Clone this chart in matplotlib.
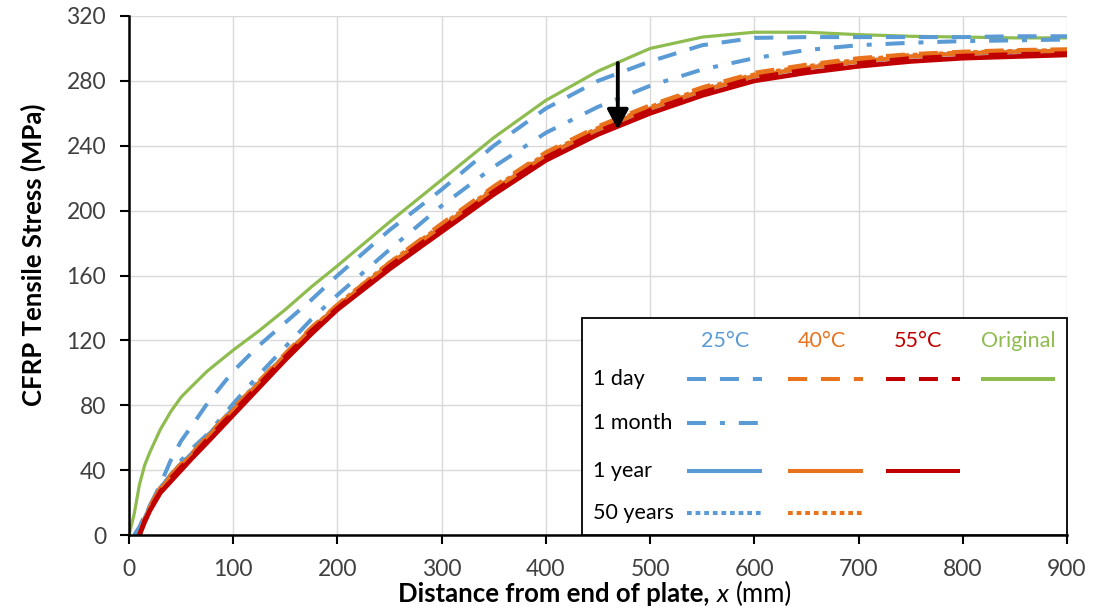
import numpy as np
import matplotlib
matplotlib.use("Agg")
import matplotlib.pyplot as plt
from matplotlib.lines import Line2D
from matplotlib.patches import Rectangle, FancyArrowPatch
from matplotlib.offsetbox import TextArea, HPacker, AnnotationBbox

# ---------------- data ----------------
nan = np.nan
distance_mm = [0, 5, 10, 15, 20, 30, 40, 50, 60, 75, 100, 125, 150, 175, 200,
               250, 300, 350, 400, 450, 500, 550, 600, 650, 700, 750, 800, 850, 900]

original = [0, 13, 31, 43, 51, 65, 76, 85, 91.5, 101, 114, 126, 139, 153, 166,
            193, 219, 245, 268, 286, 300, 307, 310, 310, 308.5, 307.5, 307, 306.5, 306.5]

t25_1day = [nan, 0, 5, 12, 18, 31, 46, 58, 67, 81, 101, 117, 131, 145, 160,
            188, 213, 240, 263, 280, 292, 302, 306.5, 307, 307, 307, 307, 307.5, 307.5]
t25_1month = [nan, nan, 0, 8, 15, 27, 37, 46, 53, 62, 81, 99, 116, 133, 148,
              176, 203, 227, 248, 264, 277, 287, 294, 299, 302, 303.5, 304.5, 305, 305.5]
t25_1year = [nan, nan, 0, 10, 18, 29, 37, 44, 50, 61, 78, 94, 111, 127, 141,
             167, 190, 213, 234, 250, 263, 274, 283, 288, 292, 295, 297, 298, 298.5]
t25_50years = [nan, nan, 0, 10, 18, 29, 37, 44, 50, 61, 78, 95, 111, 127, 141,
               167, 190, 213, 234, 250, 263, 274, 283, 288, 292, 295, 297, 297.5, 298]

t40_1day = [nan, nan, 0, 10, 18, 29, 37, 44, 50, 61, 78, 95, 112, 128, 142,
            168, 192, 215, 236, 252, 265, 276, 285, 290, 294, 296.5, 298, 299, 299.5]
t40_1year = [nan, nan, 0, 9, 17, 28, 36, 43, 49, 60, 77, 94, 111, 127, 141,
             167, 190, 213, 234, 250, 263, 274, 283, 288, 292, 295, 297, 298, 298.5]
t40_50years = [nan, nan, 0, 9, 17, 28, 36, 43, 49, 60, 77, 94, 111, 127, 142,
               168, 191, 214, 235, 251, 264, 275, 284, 289, 293, 296, 297.5, 298.5, 299]

t55_1day = [nan, nan, 0, 9, 16, 27, 35, 42, 48, 59, 76, 93, 110, 126, 140,
            166, 189, 212, 233, 249, 262, 273, 282, 287, 291, 294, 295.5, 296.5, 297]
t55_1year = [nan, nan, 0, 8, 15, 26, 33, 40, 47, 57, 74, 91, 108, 124, 139,
             164, 187, 210, 231, 247, 260, 271, 280, 285, 289, 292, 294, 295, 296]

arrow_x = 469
arrow_from, arrow_to = 291, 250

y_ticks = [0, 40, 80, 120, 160, 200, 240, 280, 320]
x_ticks = [0, 100, 200, 300, 400, 500, 600, 700, 800, 900]

temps = ["25°C", "40°C", "55°C", "Original"]
durations = ["1 day", "1 month", "1 year", "50 years"]

# ---------------- style ----------------
plt.rcParams['font.family'] = ['Lato', 'DejaVu Sans']
plt.rcParams['lines.scale_dashes'] = False

BLUE = '#5B9BD5'
ORANGE = '#E8731C'
RED = '#C00000'
GREEN = '#8FBC4F'

DAY = (0, (13.7, 10))
MONTH = (0, (13.7, 10, 3.6, 10))
YEAR = '-'
FIFTY = (0, (3.4, 2.8))

fig = plt.figure(figsize=(11.02, 6.13), dpi=100)
ax = fig.add_axes([129 / 1102, 1 - 535 / 613, 938 / 1102, 519 / 613])

series = [
    (original, GREEN, '-', 2.3),
    (t25_1day, BLUE, DAY, 2.9),
    (t25_1month, BLUE, MONTH, 2.9),
    (t25_1year, BLUE, YEAR, 2.9),
    (t25_50years, BLUE, FIFTY, 2.9),
    (t40_1day, ORANGE, DAY, 2.9),
    (t40_1year, ORANGE, YEAR, 2.9),
    (t40_50years, ORANGE, FIFTY, 2.9),
    (t55_1day, RED, DAY, 2.9),
    (t55_1year, RED, YEAR, 3.4),
]
for ys, c, ls, lw in series:
    ax.plot(distance_mm, ys, color=c, linestyle=ls, lw=lw,
            dash_capstyle='butt', solid_capstyle='butt', zorder=3)

arr = FancyArrowPatch((arrow_x, arrow_from), (arrow_x, arrow_to),
                      arrowstyle='-|>,head_length=0.6,head_width=0.32',
                      mutation_scale=20, lw=2.8, color='black',
                      shrinkA=0, shrinkB=0, zorder=6)
ax.add_patch(arr)

ax.set_xlim(0, 900)
ax.set_ylim(0, 320)
ax.set_xticks(x_ticks)
ax.set_yticks(y_ticks)
ax.grid(True, color='#D9D9D9', lw=1.0, zorder=0)
ax.set_axisbelow(True)
for s in ['top', 'right']:
    ax.spines[s].set_visible(False)
for s in ['left', 'bottom']:
    ax.spines[s].set_linewidth(1.8)
    ax.spines[s].set_color('black')
    ax.spines[s].set_zorder(5)
ax.tick_params(axis='both', direction='out', length=6.5, width=1.5,
               color='black', labelsize=16.5, labelcolor='#404040')
ax.tick_params(axis='y', pad=10)
ax.tick_params(axis='x', pad=11)

ax.set_ylabel('CFRP Tensile Stress (MPa)', fontsize=18.5, fontweight='bold')
ax.yaxis.set_label_coords(-0.0885, 0.54)

# x label with mixed styles
parts = [
    TextArea("Distance from end of plate,",
             textprops=dict(fontsize=18.5, fontweight='bold', color='black')),
    TextArea("x", textprops=dict(fontsize=18.5, fontstyle='italic', color='black')),
    TextArea("(mm)", textprops=dict(fontsize=18.5, color='black')),
]
pack = HPacker(children=parts, align='baseline', pad=0, sep=5)
ab = AnnotationBbox(pack, (0.4968, -0.090), xycoords='axes fraction',
                    box_alignment=(0.5, 1.0), frameon=False, pad=0,
                    annotation_clip=False)
ax.add_artist(ab)

# ---------------- custom legend table ----------------
T = ax.transAxes
box = Rectangle((0.483, 0.0), 0.517, 0.418, transform=T, facecolor='white',
                edgecolor='black', lw=1.3, zorder=7, clip_on=False)
ax.add_patch(box)

head_x = [0.635, 0.739, 0.841, 0.948]
head_c = [BLUE, ORANGE, RED, GREEN]
for t, hx, hc in zip(temps, head_x, head_c):
    ax.text(hx, 0.374, t, transform=T, color=hc, fontsize=15.5,
            ha='center', va='center', zorder=8)

row_y = [0.3012, 0.2158, 0.1239, 0.0424]
for d, ry in zip(durations, row_y):
    ax.text(0.4947, ry, d, transform=T, color='black', fontsize=15.5,
            ha='left', va='center', zorder=8)

col_x = [(0.595, 0.675), (0.7026, 0.7825), (0.807, 0.886), (0.908, 0.987)]
samples = [
    (0, 0, BLUE, DAY), (0, 1, ORANGE, DAY), (0, 2, RED, DAY), (0, 3, GREEN, '-'),
    (1, 0, BLUE, MONTH),
    (2, 0, BLUE, YEAR), (2, 1, ORANGE, YEAR), (2, 2, RED, YEAR),
    (3, 0, BLUE, FIFTY), (3, 1, ORANGE, FIFTY),
]
for r, cidx, c, ls in samples:
    x0, x1 = col_x[cidx]
    ln = Line2D([x0, x1], [row_y[r], row_y[r]], transform=T, color=c,
                linestyle=ls, lw=2.9, dash_capstyle='butt',
                solid_capstyle='butt', zorder=8)
    ax.add_line(ln)

fig.savefig('out.png', dpi=100)
